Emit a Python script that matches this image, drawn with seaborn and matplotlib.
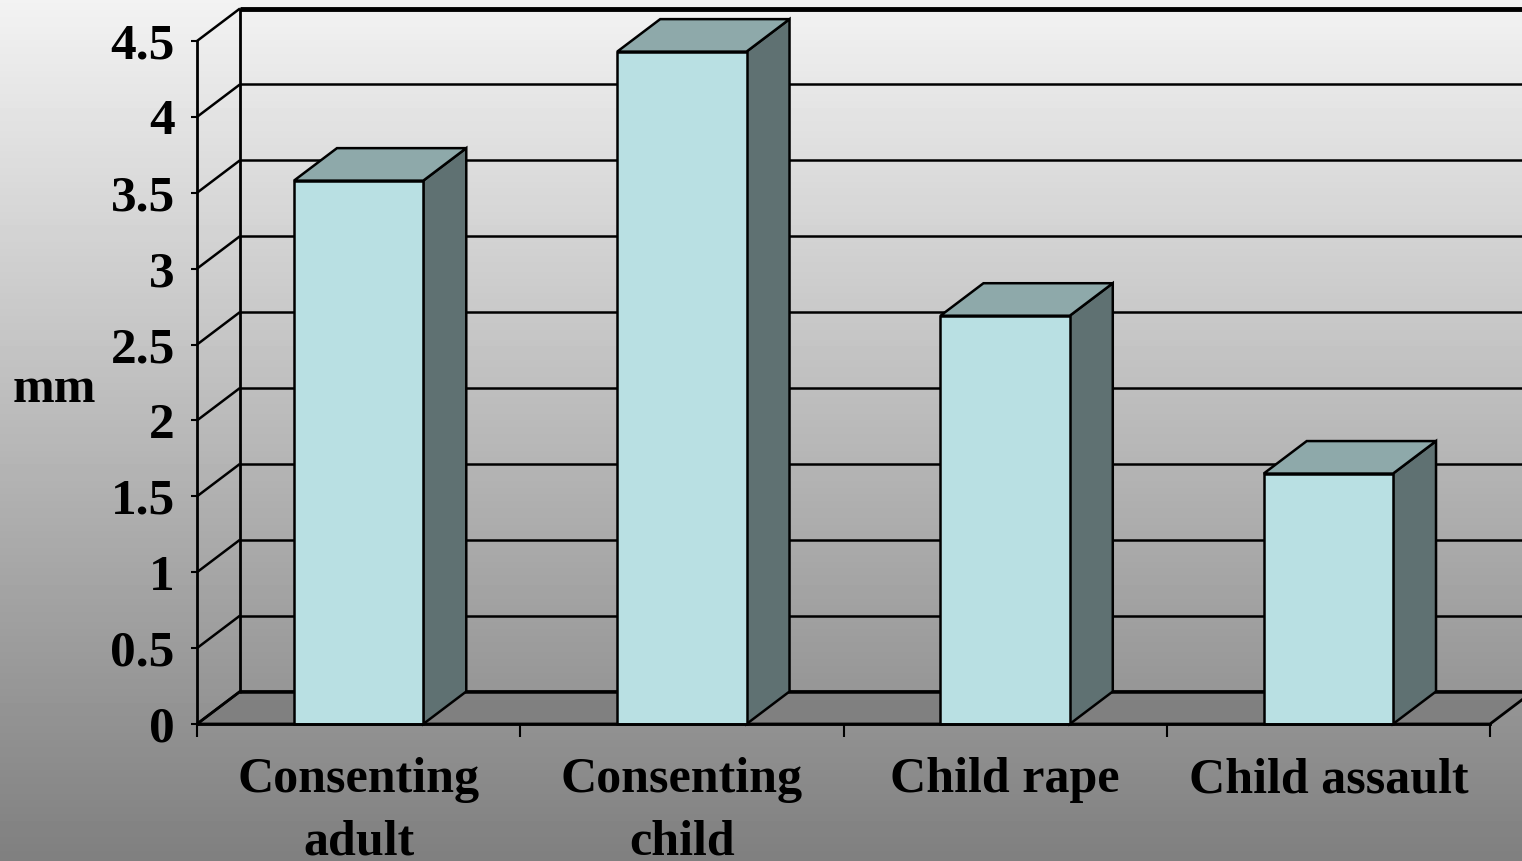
import numpy as np
import pandas as pd
import matplotlib
matplotlib.use("Agg")
import matplotlib.pyplot as plt
from matplotlib.patches import Polygon
import seaborn as sns

# Mean measurement per group (mm)
categories = ["Consenting\nadult", "Consenting\nchild", "Child rape", "Child assault"]
values = [3.58, 4.43, 2.69, 1.65]
y_ticks = [0, 0.5, 1, 1.5, 2, 2.5, 3, 3.5, 4, 4.5]
y_tick_labels = ["0", "0.5", "1", "1.5", "2", "2.5", "3", "3.5", "4", "4.5"]

FRONT = "#b9e0e3"
TOP = "#8ea9aa"
SIDE = "#5f7172"
FLOOR = "#808080"

sns.set_theme(style="white")
plt.rcParams["font.family"] = ["Liberation Serif", "DejaVu Serif"]
plt.rcParams["font.weight"] = "bold"

W, H = 1522, 861
fig = plt.figure(figsize=(W / 100, H / 100), dpi=100)

# vertical gradient backdrop
bg = fig.add_axes([0, 0, 1, 1], zorder=-10)
grad = np.linspace(0.95, 0.50, 256).reshape(-1, 1)
bg.imshow(grad, aspect="auto", cmap="gray", vmin=0, vmax=1,
          extent=[0, 1, 0, 1], origin="upper")
bg.set_axis_off()

# front plane of the 3-D box
left, right, bottom, top = 197, 1490, 724, 41
ax = fig.add_axes([left / W, (H - bottom) / H, (right - left) / W, (bottom - top) / H])
ax.patch.set_alpha(0)

df = pd.DataFrame({"category": categories, "mm": values})
sns.barplot(data=df, x="category", y="mm", ax=ax, color=FRONT, width=0.4,
            saturation=1, edgecolor="black", linewidth=1.8, zorder=4)

ax.set_xlim(-0.5, 3.5)
ax.set_ylim(0, 4.5)

# depth offset of the 3-D projection, in data units
dx = 43 / ((right - left) / 4)
dy = 32.5 / ((bottom - top) / 4.5)
x_far = 4.2
x0w = -0.5

# floor
ax.add_patch(Polygon([(x0w, 0), (3.5, 0), (3.5 + dx, dy), (x0w + dx, dy)],
                     closed=True, facecolor=FLOOR, edgecolor="black",
                     linewidth=2, zorder=1, clip_on=False))

# wall gridlines
for v in y_ticks:
    lw = 3.5 if v == y_ticks[-1] else 1.8
    ax.plot([x0w, x0w + dx], [v, v + dy], color="black", lw=1.8,
            clip_on=False, zorder=2, solid_capstyle="butt")
    ax.plot([x0w + dx, x_far], [v + dy, v + dy], color="black", lw=lw,
            clip_on=False, zorder=2, solid_capstyle="butt")
ax.plot([x0w + dx, x0w + dx], [dy, y_ticks[-1] + dy], color="black", lw=2,
        clip_on=False, zorder=2)

# top and side faces of each bar
for p in list(ax.patches):
    if p.get_zorder() != 4:
        continue
    p.set_clip_on(False)
    bx, bw, bh = p.get_x(), p.get_width(), p.get_height()
    top_face = [(bx, bh), (bx + bw, bh), (bx + bw + dx, bh + dy), (bx + dx, bh + dy)]
    side_face = [(bx + bw, 0), (bx + bw + dx, dy), (bx + bw + dx, bh + dy), (bx + bw, bh)]
    ax.add_patch(Polygon(side_face, closed=True, facecolor=SIDE, edgecolor="black",
                         linewidth=1.8, zorder=3, clip_on=False, joinstyle="miter"))
    ax.add_patch(Polygon(top_face, closed=True, facecolor=TOP, edgecolor="black",
                         linewidth=1.8, zorder=3, clip_on=False, joinstyle="miter"))

# axes styling
for s in ["top", "right"]:
    ax.spines[s].set_visible(False)
for s in ["left", "bottom"]:
    ax.spines[s].set_color("black")
    ax.spines[s].set_linewidth(2)
    ax.spines[s].set_zorder(5)

fs = 36
ax.set_yticks(y_ticks)
ax.set_yticklabels(y_tick_labels, fontsize=fs + 1, fontweight="bold", color="black")
ax.tick_params(axis="y", direction="out", length=4, width=1.5, pad=12, left=True,
               colors="black")
ax.set_xticks(range(len(categories)))
ax.set_xticklabels(categories, fontsize=fs, fontweight="bold", color="black",
                   linespacing=1.45)
ax.set_xticks(np.arange(-0.5, 4.0, 1.0), minor=True)
ax.tick_params(axis="x", which="major", length=0, pad=24, colors="black")
ax.tick_params(axis="x", which="minor", direction="out", length=9, width=1.5,
               bottom=True, colors="black")
ax.set_xlabel("")
ax.set_ylabel("mm", rotation=0, fontsize=fs, fontweight="bold", color="black",
              ha="center", va="center")
ax.yaxis.set_label_coords(-0.11, 0.489)
ax.grid(False)

fig.savefig("out.png", dpi=100)
